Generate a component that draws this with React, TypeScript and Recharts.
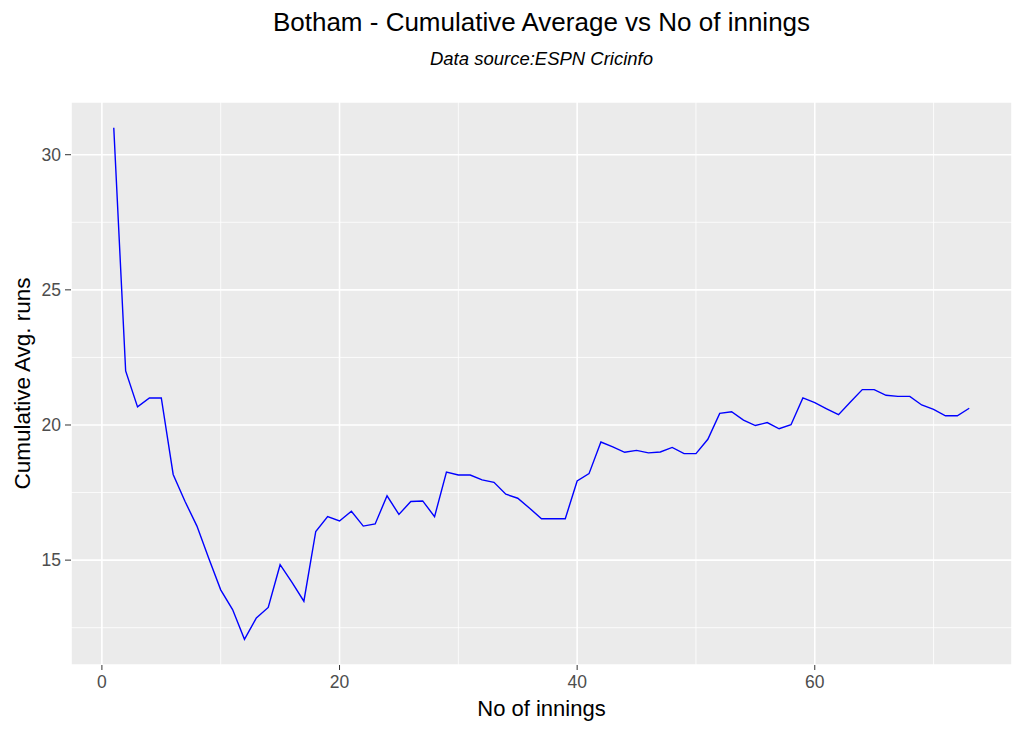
import React from 'react';
import {
  LineChart,
  Line,
  XAxis,
  YAxis,
  CartesianGrid,
  ReferenceLine,
  Label,
} from 'recharts';

// innings number and cumulative average after that innings
const innings = [
  1, 2, 3, 4, 5, 6, 7, 8, 9, 10, 11, 12, 13, 14, 15, 16, 17, 18, 19, 20, 21, 22, 23, 24,
  25, 26, 27, 28, 29, 30, 31, 32, 33, 34, 35, 36, 37, 38, 39, 40, 41, 42, 43, 44, 45, 46,
  47, 48, 49, 50, 51, 52, 53, 54, 55, 56, 57, 58, 59, 60, 61, 62, 63, 64, 65, 66, 67, 68,
  69, 70, 71, 72, 73,
];
const cumAvg = [
  31.0, 22.0, 20.67, 21.0, 21.0, 18.17, 17.17, 16.26, 15.06, 13.9, 13.17, 12.07, 12.86,
  13.25, 14.83, 14.18, 13.48, 16.06, 16.61, 16.45, 16.81, 16.26, 16.34, 17.38, 16.69,
  17.17, 17.19, 16.61, 18.26, 18.15, 18.15, 17.97, 17.88, 17.44, 17.29, 16.92, 16.53,
  16.53, 16.53, 17.93, 18.2, 19.37, 19.19, 18.99, 19.06, 18.97, 19.0, 19.17, 18.94, 18.94,
  19.47, 20.43, 20.49, 20.18, 19.98, 20.09, 19.86, 20.01, 21.0, 20.83, 20.6, 20.38, 20.85,
  21.31, 21.31, 21.1, 21.06, 21.06, 20.74, 20.58, 20.34, 20.34, 20.62,
];

const xTicks = [0, 20, 40, 60];
const xMinor = [10, 30, 50, 70];
const yTicks = [15, 20, 25, 30];
const yMinor = [12.5, 17.5, 22.5, 27.5];

const data = innings.map((n, i) => ({ innings: n, avg: cumAvg[i] }));

const font = '"Liberation Sans", Arial, sans-serif';
const tickStyle = { fill: '#4D4D4D', fontSize: 17.5, fontFamily: font };

export default function App() {
  return (
    <div style={{ position: 'absolute', left: 0, top: 0, width: 1024, height: 731, background: '#fff', fontFamily: font }}>
      <div style={{ position: 'absolute', left: 71, width: 941, top: 7, textAlign: 'center', fontSize: 26, color: '#000', whiteSpace: 'nowrap' }}>
        Botham - Cumulative Average vs No of innings
      </div>
      <div style={{ position: 'absolute', left: 71, width: 941, top: 48, textAlign: 'center', fontSize: 18.5, fontStyle: 'italic', color: '#000', whiteSpace: 'nowrap' }}>
        Data source:ESPN Cricinfo
      </div>
      <LineChart width={1024} height={731} data={data} margin={{ top: 102, right: 12, bottom: 26, left: 0 }}>
        <CartesianGrid fill="#EBEBEB" stroke="#FFFFFF" strokeWidth={1.6} />
        {xMinor.map((v) => (
          <ReferenceLine key={`x${v}`} x={v} stroke="#FFFFFF" strokeWidth={0.8} />
        ))}
        {yMinor.map((v) => (
          <ReferenceLine key={`y${v}`} y={v} stroke="#FFFFFF" strokeWidth={0.8} />
        ))}
        <XAxis
          dataKey="innings"
          type="number"
          domain={[-2.6, 76.6]}
          ticks={xTicks}
          height={40}
          axisLine={false}
          tickLine={{ stroke: '#333333' }}
          tickSize={5}
          tickMargin={6}
          tick={tickStyle}
          allowDataOverflow
        >
          <Label value="No of innings" position="insideBottom" offset={-11} style={{ fill: '#000', fontSize: 22, fontFamily: font }} />
        </XAxis>
        <YAxis
          type="number"
          domain={[11.12, 31.95]}
          ticks={yTicks}
          width={71}
          axisLine={false}
          tickLine={{ stroke: '#333333' }}
          tickSize={6}
          tickMargin={4}
          tick={tickStyle}
          allowDataOverflow
        >
          <Label value="Cumulative Avg. runs" angle={-90} position="insideLeft" offset={22} style={{ fill: '#000', fontSize: 22.5, fontFamily: font, textAnchor: 'middle' }} />
        </YAxis>
        <Line
          type="linear"
          dataKey="avg"
          stroke="#0000FF"
          strokeWidth={1.4}
          dot={false}
          isAnimationActive={false}
        />
      </LineChart>
    </div>
  );
}
